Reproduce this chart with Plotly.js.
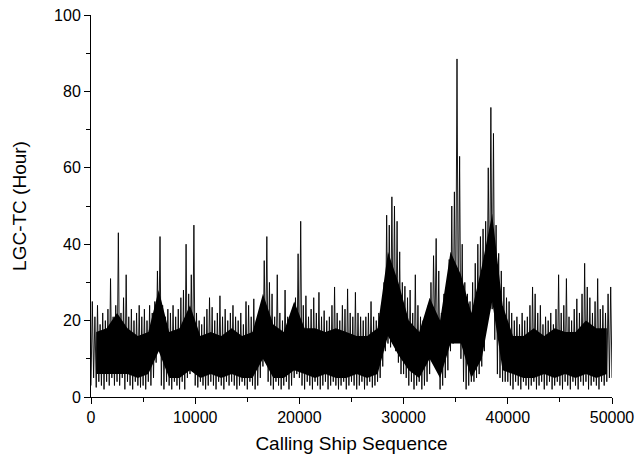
<!DOCTYPE html>
<html>
<head>
<meta charset="utf-8">
<script src="https://cdn.plot.ly/plotly-3.0.1.min.js"></script>
<style>html,body{margin:0;padding:0;background:#fff;}#chart{width:636px;height:460px;}</style>
</head>
<body>
<div id="chart"></div>
<script>
// Spikes: each bin covers 250 ships; per-bin max and min of LGC-TC (hours)
const binSize = 250;
const binHigh = [
  25, 21, 24, 19, 22, 20, 23, 31, 21, 24,
  43, 22, 26, 32, 21, 23, 20, 22, 24, 21,
  23, 20, 24, 22, 25, 33, 42, 24, 21, 23,
  22, 24, 21, 23, 26, 28, 40, 27, 32, 45,
  22, 20, 19, 21, 23, 26, 23.5, 20, 22, 26.5,
  21, 23, 20, 22, 24, 21, 20, 22, 19, 25,
  24, 21, 25.7, 20, 18, 24, 35.7, 42, 30, 27,
  21, 32, 22, 20, 28, 21, 20, 22, 26, 37.5,
  46, 24, 26.5, 21, 23, 26, 22, 27.4, 21, 22.6,
  20, 21, 24, 28.8, 22, 20, 24, 23, 28.3, 22,
  21, 27.4, 22, 21, 20, 21, 22, 25, 21, 20,
  22, 24, 30, 47.6, 45, 52.4, 50, 46, 38, 30,
  29, 26, 28, 22, 32, 24, 21, 20, 22, 24,
  30, 37, 41.5, 33, 22, 27, 28, 36, 50, 53.7,
  88.5, 63, 40, 30, 27, 25, 30, 35, 40, 42,
  44, 46, 60, 75.8, 69, 45, 37.6, 33, 28.8, 26,
  25, 22, 20, 21, 19, 22, 20, 21, 24, 28.8,
  27, 22, 24, 19, 21, 20, 22, 19, 23, 32,
  22, 24, 31, 21, 20, 23, 25.7, 22, 27, 35,
  28.8, 26, 22, 25, 31, 23, 24, 22, 27, 28.8
];
const binLow = [
  3, 5, 2.5, 4, 3, 2, 4, 3, 5, 3,
  4, 3, 5, 2, 4, 3, 2, 4, 3, 2.5,
  3, 2, 4, 3, 5, 9, 13, 3, 2, 4,
  3, 2, 4, 3, 2, 4, 2, 5, 6, 8,
  3, 2.5, 4, 3, 2, 3, 4, 3, 2, 4,
  3, 2, 4, 3, 4, 3, 2, 3, 4, 3,
  2, 4, 3, 2, 3, 5, 8, 10, 4, 3,
  2, 4, 3, 2, 3, 4, 2, 3, 5, 6,
  5, 3, 2, 4, 3, 2, 4, 3, 2, 3,
  4, 2, 3, 4, 3, 2, 3, 4, 2, 3,
  4, 3, 2, 3, 4, 2, 3, 4, 2.5, 3,
  4, 5, 8, 12, 14, 13, 14, 12, 9, 6,
  6, 5, 3, 4, 2, 3, 4, 2, 3, 4,
  6, 12, 15, 8, 2, 3, 5, 7, 12, 14,
  20, 18, 10, 4, 2, 3, 4, 4, 5, 6,
  8, 12, 20, 24, 23, 15, 6, 5, 4, 4,
  4, 3, 2, 4, 3, 2, 4, 3, 2, 3,
  4, 2, 3, 4, 2, 3, 4, 2, 3, 4,
  3, 2, 4, 3, 2, 4, 3, 2, 4, 3,
  4, 2, 3, 4, 3, 2, 4, 3, 4, 5
];
// Solid dense core: each block covers 1000 ships; top and bottom of the solid black mass
const blockSize = 1000;
const coreTop = [
  17, 18, 22, 18, 16, 17, 28, 17, 18, 24,
  16, 17, 16, 18, 16, 17, 27, 19, 17, 25,
  18, 18, 17, 18, 17, 16, 16, 18, 38, 30,
  20, 17, 26, 20, 38, 32, 22, 34, 48, 24,
  16, 16, 18, 16, 18, 17, 17, 20, 18, 18
];
const coreBottom = [
  6, 6, 6, 6, 5, 6, 12, 5, 5, 7,
  5, 6, 5, 6, 5, 5, 10, 5, 5, 7,
  6, 5, 6, 5, 5, 6, 5, 6, 16, 11,
  7, 5, 10, 5, 14, 14, 5, 10, 25, 7,
  6, 5, 5, 6, 5, 6, 5, 6, 5, 6
];
const xTickVals = [0, 10000, 20000, 30000, 40000, 50000];
const yTickVals = [0, 20, 40, 60, 80, 100];

const xs = [], ys = [];
for (let i = 0; i < binHigh.length; i++) {
  xs.push(i * binSize);               ys.push(binLow[i]);
  xs.push(i * binSize + binSize / 2); ys.push(binHigh[i]);
}
xs.push(binHigh.length * binSize); ys.push(binLow[binLow.length - 1]);

const bx = coreTop.map((_, k) => k * blockSize + blockSize / 2);

const font = 'Liberation Sans, Arial, sans-serif';
const traces = [
  {x: bx, y: coreBottom, type: 'scatter', mode: 'lines', line: {width: 0, color: '#000'}, hoverinfo: 'skip'},
  {x: bx, y: coreTop, type: 'scatter', mode: 'lines', fill: 'tonexty', fillcolor: '#000',
   line: {width: 0, color: '#000'}, hoverinfo: 'skip'},
  {x: xs, y: ys, type: 'scatter', mode: 'lines', line: {color: '#000', width: 0.9}, hoverinfo: 'skip'}
];
const axisCommon = {
  showgrid: false, zeroline: false, showline: true, linecolor: '#000', linewidth: 1,
  ticks: 'outside', ticklen: 6, tickwidth: 1, tickcolor: '#000',
  tickfont: {family: font, size: 16, color: '#000'}
};
const layout = {
  width: 636, height: 460,
  margin: {l: 91, r: 24, t: 15, b: 63},
  paper_bgcolor: '#fff', plot_bgcolor: '#fff',
  showlegend: false,
  xaxis: Object.assign({}, axisCommon, {
    range: [0, 50000], tickvals: xTickVals, ticktext: xTickVals.map(String),
    minor: {dtick: 5000, tick0: 0, ticks: 'outside', ticklen: 4, tickcolor: '#000', showgrid: false},
    title: {text: 'Calling Ship Sequence', font: {family: font, size: 19, color: '#000'}, standoff: 11}
  }),
  yaxis: Object.assign({}, axisCommon, {
    range: [0, 100], tickvals: yTickVals, ticktext: yTickVals.map(String),
    minor: {dtick: 10, tick0: 0, ticks: 'outside', ticklen: 4, tickcolor: '#000', showgrid: false},
    title: {text: 'LGC-TC (Hour)', font: {family: font, size: 19, color: '#000'}, standoff: 22}
  })
};
Plotly.newPlot('chart', traces, layout, {displayModeBar: false, staticPlot: true});
</script>
</body>
</html>
